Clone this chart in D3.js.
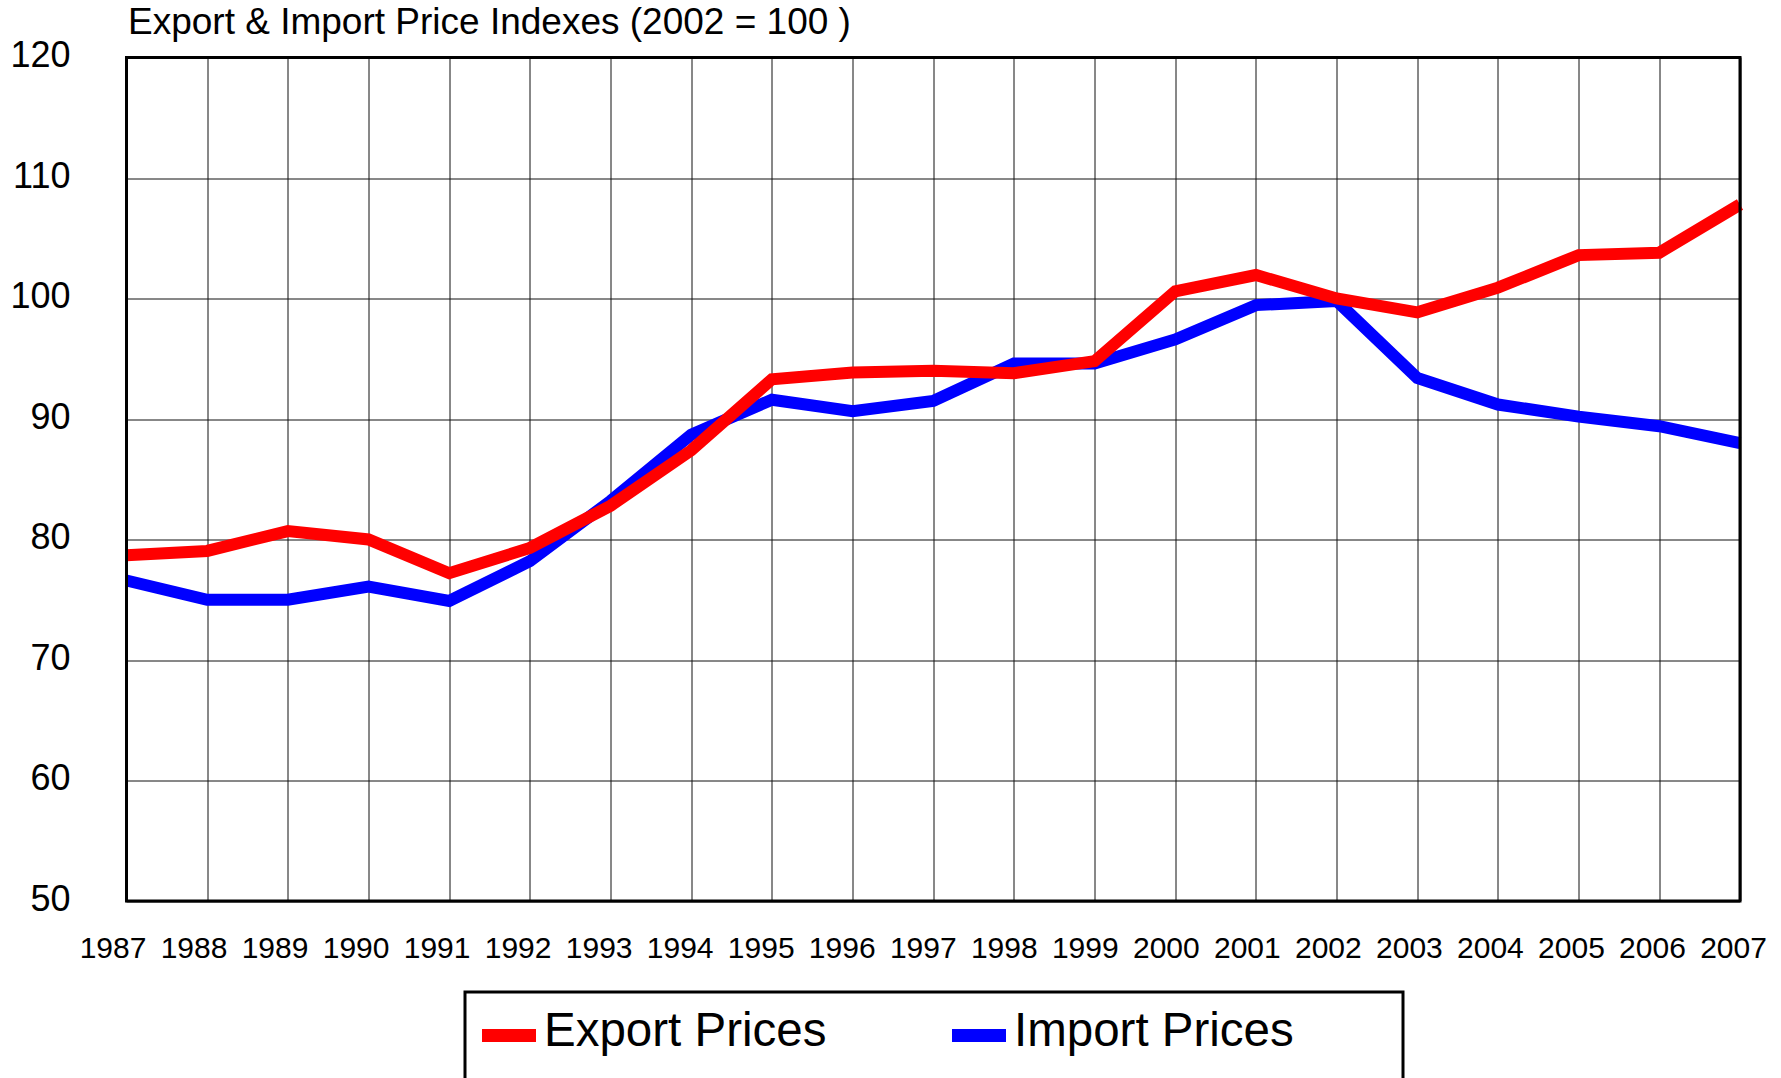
<!DOCTYPE html>
<html>
<head>
<meta charset="utf-8">
<script src="https://cdn.jsdelivr.net/npm/d3@7"></script>
<style>
  body { margin: 0; background: #fff; }
  svg { display: block; font-family: "Liberation Sans", Arial, sans-serif; }
</style>
</head>
<body>
<svg id="chart" width="1781" height="1078"></svg>
<script>
const years = [1987, 1988, 1989, 1990, 1991, 1992, 1993, 1994, 1995, 1996, 1997,
  1998, 1999, 2000, 2001, 2002, 2003, 2004, 2005, 2006, 2007];
const exportPrices = [78.7, 79.05, 80.7, 80.0, 77.2, 79.3, 82.8, 87.4, 93.3, 93.85, 94.0,
  93.8, 94.8, 100.6, 101.95, 100.0, 98.85, 100.9, 103.6, 103.8, 107.8];
const importPrices = [76.6, 75.0, 75.0, 76.1, 74.9, 78.2, 83.2, 88.7, 91.6, 90.65, 91.5,
  94.6, 94.6, 96.6, 99.45, 99.8, 93.4, 91.2, 90.2, 89.4, 88.0];
const yTicks = [50, 60, 70, 80, 90, 100, 110, 120];
const seriesNames = ['Export Prices', 'Import Prices'];
const seriesColors = ['#ff0000', '#0000ff'];

const margin = { top: 57.5, left: 126.5, right: 41, bottom: 177 };
const width = 1781 - margin.left - margin.right;
const height = 1078 - margin.top - margin.bottom;

const svg = d3.select('#chart');
const g = svg.append('g')
  .attr('transform', `translate(${margin.left}, ${margin.top})`);

const xScale = d3.scalePoint()
  .domain(years)
  .range([0, width]);

// year labels sit a little left of their grid lines
const xLabelScale = d3.scalePoint()
  .domain(years)
  .range([-14, width - 7]);

const yScale = d3.scaleLinear()
  .domain([50, 120])
  .range([height, 0]);

// grid
g.append('g')
  .selectAll('line')
  .data(years)
  .enter()
  .append('line')
  .attr('x1', d => Math.round(xScale(d)) + 0.5)
  .attr('x2', d => Math.round(xScale(d)) + 0.5)
  .attr('y1', 0)
  .attr('y2', height)
  .attr('stroke', '#111')
  .attr('stroke-width', 1);

g.append('g')
  .selectAll('line')
  .data(yTicks)
  .enter()
  .append('line')
  .attr('x1', 0)
  .attr('x2', width)
  .attr('y1', d => Math.round(yScale(d)) + 0.5)
  .attr('y2', d => Math.round(yScale(d)) + 0.5)
  .attr('stroke', '#111')
  .attr('stroke-width', 1);

// y axis labels
const yAxis = d3.axisLeft(yScale).tickValues(yTicks).tickSize(0).tickPadding(56);
const yg = g.append('g').call(yAxis);
yg.select('.domain').remove();
yg.selectAll('text')
  .attr('dy', 9)
  .attr('font-size', 36)
  .attr('font-family', '"Liberation Sans", Arial, sans-serif')
  .attr('fill', '#000');

// x axis labels
const xAxis = d3.axisBottom(xLabelScale).tickSize(0).tickPadding(0);
const xg = g.append('g')
  .attr('transform', `translate(0, ${height})`)
  .call(xAxis);
xg.select('.domain').remove();
xg.selectAll('text')
  .attr('y', 57)
  .attr('dy', 0)
  .attr('font-size', 30)
  .attr('font-family', '"Liberation Sans", Arial, sans-serif')
  .attr('fill', '#000');

// lines (import first, export drawn over it)
const line = d3.line()
  .x((d, i) => xScale(years[i]))
  .y(d => yScale(d));

[importPrices, exportPrices].forEach((values, k) => {
  g.append('path')
    .datum(values)
    .attr('d', line)
    .attr('fill', 'none')
    .attr('stroke', seriesColors[1 - k])
    .attr('stroke-width', 12)
    .attr('stroke-linejoin', 'miter');
});

// frame
g.append('rect')
  .attr('x', 0)
  .attr('y', 0)
  .attr('width', width)
  .attr('height', height)
  .attr('fill', 'none')
  .attr('stroke', '#000')
  .attr('stroke-width', 3);

// title
svg.append('text')
  .attr('x', 128)
  .attr('y', 34)
  .attr('font-size', 37)
  .attr('fill', '#000')
  .text('Export & Import Price Indexes (2002 = 100 )');

// legend
const legend = svg.append('g');
legend.append('rect')
  .attr('x', 465)
  .attr('y', 992)
  .attr('width', 938)
  .attr('height', 130)
  .attr('fill', '#fff')
  .attr('stroke', '#000')
  .attr('stroke-width', 3);

const legendX = [482, 952];
seriesNames.forEach((name, k) => {
  legend.append('rect')
    .attr('x', legendX[k])
    .attr('y', 1029)
    .attr('width', 54)
    .attr('height', 13)
    .attr('fill', seriesColors[k]);
  legend.append('text')
    .attr('x', legendX[k] + 62)
    .attr('y', 1046)
    .attr('font-size', 47.5)
    .attr('fill', '#000')
    .text(name);
});
</script>
</body>
</html>
